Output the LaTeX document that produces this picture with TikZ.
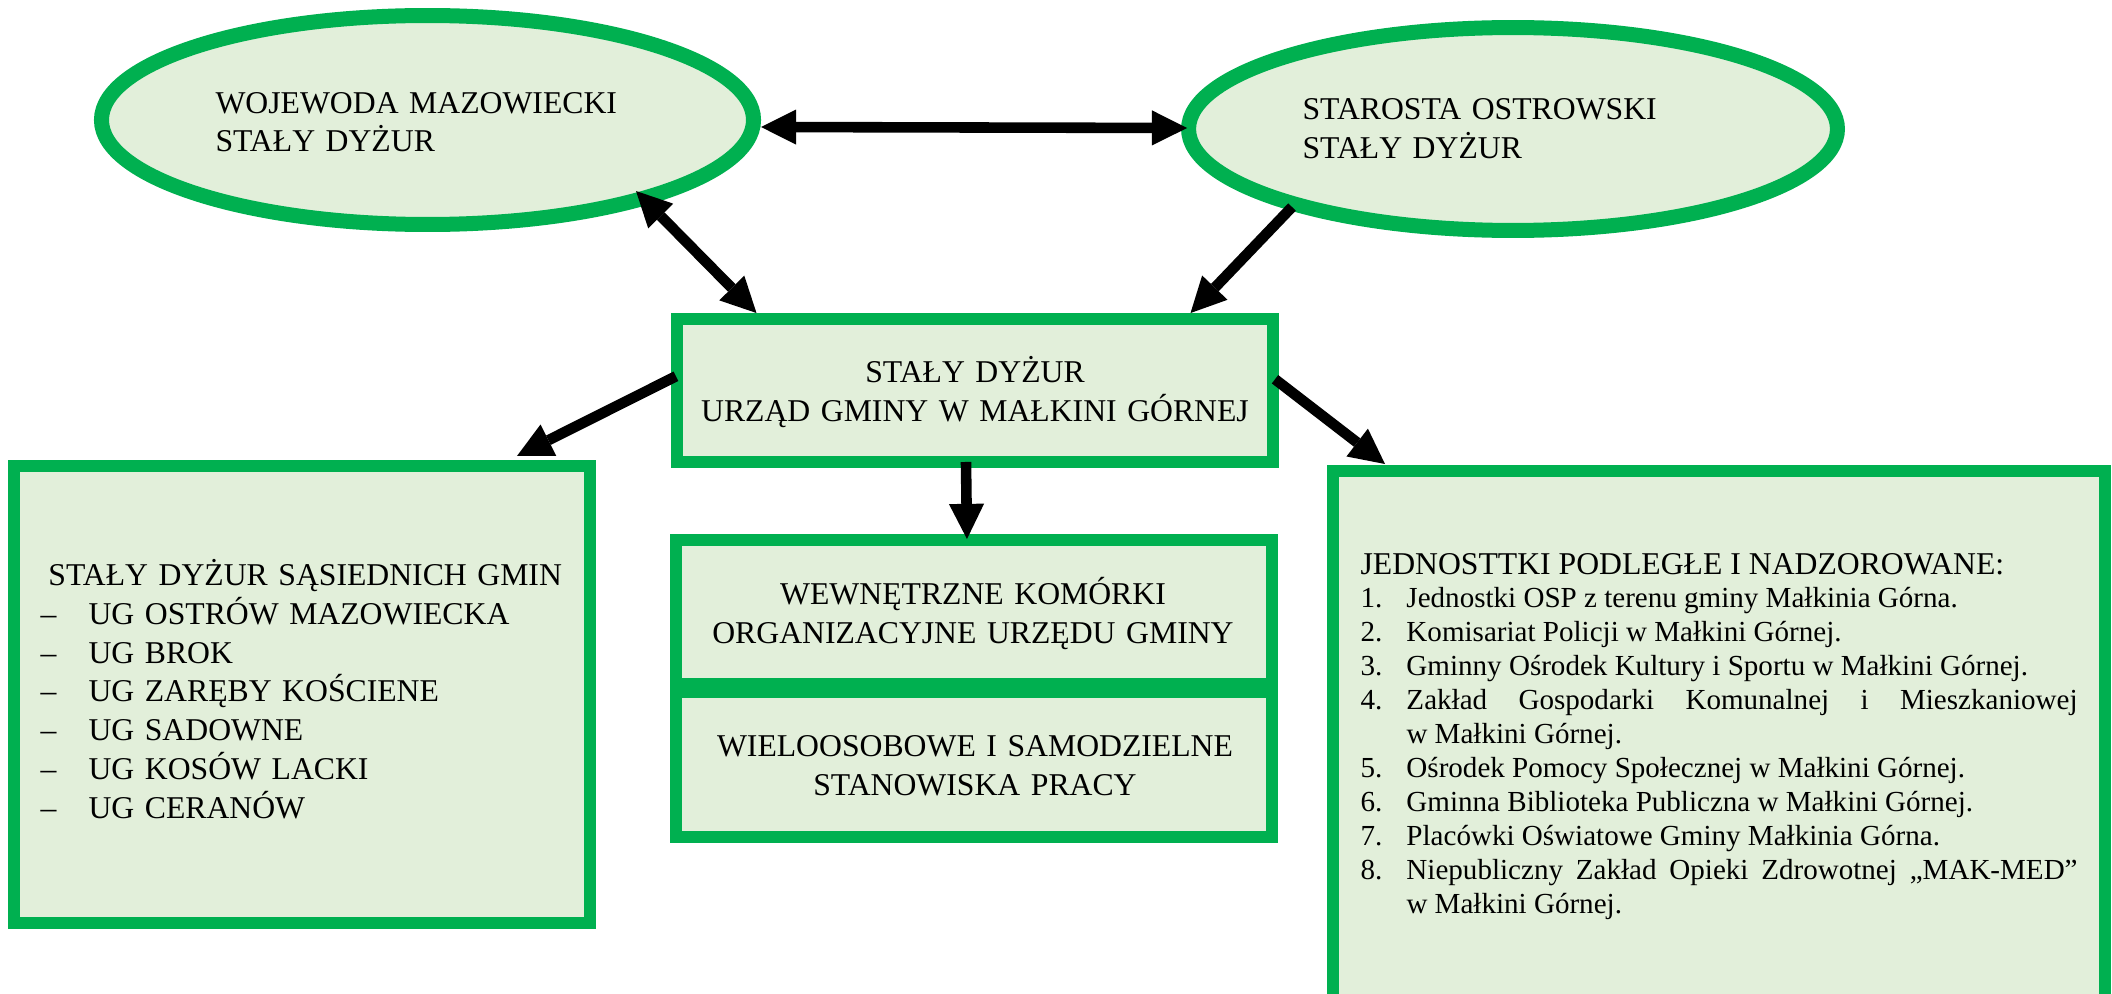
\documentclass[tikz,border=0pt]{standalone}
\usepackage{fontspec}
\setmainfont{Liberation Serif}
\usetikzlibrary{shapes.geometric,arrows.meta,calc}
\definecolor{bordgreen}{HTML}{00B050}
\definecolor{fillgreen}{HTML}{E2EFDA}
\newcommand\ritem[2]{\par\noindent\hangindent=17.4pt\hangafter=1\makebox[17.4pt][l]{#1}#2\par}
\newcommand\ldash{\makebox[18.17pt][l]{–}}
\begin{document}
\begin{tikzpicture}[x=0.3785pt,y=-0.3785pt,
  oval/.style={ellipse,draw=bordgreen,fill=fillgreen,line width=5.68pt,inner sep=0pt},
  gbox/.style={rectangle,draw=bordgreen,fill=fillgreen,line width=4.54pt,inner sep=0pt},
  lbl/.style={inner sep=0pt,font=\fontsize{12}{14.76}\selectfont},
  tip/.style={},
  conn/.style={line width=4pt,draw=black,-{Triangle[length=13.3pt,width=13.3pt,line width=0pt]}},
  dconn/.style={line width=4pt,draw=black,{Triangle[length=13.3pt,width=13.3pt,line width=0pt]}-{Triangle[length=13.3pt,width=13.3pt,line width=0pt]}}]
\useasboundingbox (0,0) rectangle (2112,993);
\fill[white] (0,0) rectangle (2112,993);
\clip (0,0) rectangle (2112,993);
% shapes
\node[oval,minimum width=246.8pt,minimum height=79.1pt] (we) at (427.5,120) {};
\node[oval,minimum width=245.6pt,minimum height=76.8pt] (se) at (1513,129) {};
\node[gbox,minimum width=225.6pt,minimum height=54.3pt] (c) at (975,390.25) {};
\node[gbox,minimum width=225.6pt,minimum height=54.5pt] (m1) at (974,612) {};
\node[gbox,minimum width=225.6pt,minimum height=54.9pt] (m2) at (974,764.5) {};
\node[gbox,minimum width=218pt,minimum height=173pt] (lb) at (302,694.5) {};
\node[gbox,minimum width=292.2pt,minimum height=204pt] (rb) at (1719,740.5) {};
% texts
\node[lbl,anchor=base west,text width=240pt,align=left] (wet) at (215,113) {WOJEWODA MAZOWIECKI\\STAŁY DYŻUR};
\node[lbl,anchor=base west,text width=240pt,align=left] (set) at (1302,120) {STAROSTA OSTROWSKI\\STAŁY DYŻUR};
\node[lbl,anchor=base,text width=225pt,align=center] (ct) at (975,382) {STAŁY DYŻUR\\URZĄD GMINY W MAŁKINI GÓRNEJ};
\node[lbl,anchor=base,text width=225pt,align=center] (m1t) at (973,604) {WEWNĘTRZNE KOMÓRKI\\ORGANIZACYJNE URZĘDU GMINY};
\node[lbl,anchor=base,text width=225pt,align=center] (m2t) at (975,756) {WIELOOSOBOWE I SAMODZIELNE\\STANOWISKA PRACY};
\node[lbl,anchor=base west,text width=215pt,align=left] (lbt) at (40,585) {\hspace*{3pt}STAŁY DYŻUR SĄSIEDNICH GMIN\\
\ldash UG OSTRÓW MAZOWIECKA\\
\ldash UG BROK\\
\ldash UG ZARĘBY KOŚCIENE\\
\ldash UG SADOWNE\\
\ldash UG KOSÓW LACKI\\
\ldash UG CERANÓW};
\node[inner sep=0pt,anchor=base west,text width=271.4pt,align=justify] (rbt) at (1360,574) {%
{\fontsize{12}{12.5}\selectfont JEDNOSTTKI PODLEGŁE I NADZOROWANE:\par}%
\fontsize{11}{12.85}\selectfont\hyphenpenalty=10000 \exhyphenpenalty=10000 \tolerance=10000 \emergencystretch=20pt
\ritem{1.}{Jednostki OSP z~terenu gminy Małkinia Górna.}
\ritem{2.}{Komisariat Policji w~Małkini Górnej.}
\ritem{3.}{Gminny Ośrodek Kultury i~Sportu w~Małkini Górnej.}
\ritem{4.}{Zakład Gospodarki Komunalnej i~Mieszkaniowej w~Małkini Górnej.}
\ritem{5.}{Ośrodek Pomocy Społecznej w~Małkini Górnej.}
\ritem{6.}{Gminna Biblioteka Publiczna w~Małkini Górnej.}
\ritem{7.}{Placówki Oświatowe Gminy Małkinia Górna.}
\ritem{8.}{Niepubliczny Zakład Opieki Zdrowotnej „MAK-MED” w~Małkini Górnej.}};
% connectors
\draw[dconn] ($(we.east)+(0,7)$) -- ($(se.west)+(6,-1)$);
\draw[dconn] ($(we.center)+(208.5,71)$) -- ($(c.north west)+(85.5,0.5)$);
\draw[conn] ($(se.center)+(-221,78)$) -- ($(c.north east)+(-88.5,0.5)$);
\draw[conn] ($(c.west)+(5,-14)$) -- ($(lb.north east)+(-79,-4)$);
\draw[conn] ($(c.east)+(-4,-11)$) -- ($(rb.north west)+(58,-1)$);
\draw[conn] ($(c.south west)+(295,-6)$) -- ($(m1.north west)+(297,5)$);
\end{tikzpicture}
\end{document}
